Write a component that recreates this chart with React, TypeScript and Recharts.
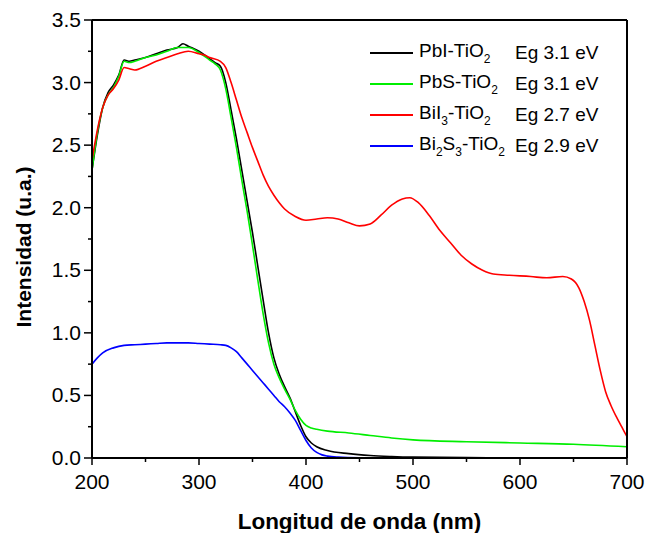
import React from 'react';
import { LineChart, Line, XAxis, YAxis, Legend } from 'recharts';

// PbI-TiO2
const pbiNm = [200, 205, 210, 215, 220, 225, 230, 235, 240, 250, 260, 270, 280, 285, 290, 300, 310, 315, 320, 325, 330, 335, 340, 345, 350, 355, 360, 365, 370, 375, 380, 385, 390, 395, 400, 405, 410, 420, 440, 460, 480, 500, 550, 600, 700];
const pbiVal = [2.3, 2.58, 2.8, 2.92, 2.98, 3.06, 3.18, 3.17, 3.18, 3.2, 3.23, 3.26, 3.28, 3.31, 3.29, 3.25, 3.19, 3.16, 3.13, 3.0, 2.78, 2.55, 2.3, 2.05, 1.8, 1.53, 1.26, 1.0, 0.8, 0.67, 0.57, 0.48, 0.37, 0.26, 0.17, 0.12, 0.09, 0.06, 0.035, 0.02, 0.012, 0.007, 0.003, 0.001, 0];

// PbS-TiO2
const pbsNm = [200, 205, 210, 215, 220, 225, 230, 235, 240, 250, 260, 270, 280, 285, 290, 300, 310, 315, 320, 325, 330, 335, 340, 345, 350, 355, 360, 365, 370, 375, 380, 385, 390, 395, 400, 405, 410, 420, 440, 460, 480, 500, 550, 600, 650, 700];
const pbsVal = [2.3, 2.6, 2.8, 2.9, 2.96, 3.05, 3.17, 3.16, 3.17, 3.2, 3.22, 3.25, 3.28, 3.28, 3.28, 3.24, 3.18, 3.15, 3.1, 2.95, 2.72, 2.48, 2.22, 1.97, 1.7, 1.42, 1.15, 0.92, 0.75, 0.64, 0.55, 0.47, 0.38, 0.31, 0.26, 0.24, 0.23, 0.215, 0.2, 0.18, 0.16, 0.145, 0.13, 0.12, 0.11, 0.09];

// BiI3-TiO2
const biiNm = [200, 205, 210, 215, 220, 225, 230, 235, 240, 250, 260, 270, 280, 290, 300, 305, 310, 320, 325, 330, 335, 340, 345, 350, 355, 360, 365, 370, 375, 380, 390, 400, 410, 420, 430, 440, 450, 460, 470, 480, 490, 497, 505, 515, 525, 535, 545, 555, 565, 575, 590, 610, 625, 640, 648, 655, 660, 665, 670, 675, 680, 685, 690, 695, 700];
const biiVal = [2.38, 2.62, 2.8, 2.9, 2.95, 3.02, 3.12, 3.11, 3.1, 3.13, 3.17, 3.2, 3.23, 3.25, 3.23, 3.22, 3.2, 3.17, 3.12, 3.0, 2.86, 2.72, 2.6, 2.48, 2.37, 2.26, 2.17, 2.1, 2.04, 1.99, 1.93, 1.9, 1.91, 1.92, 1.91, 1.88, 1.855, 1.87, 1.94, 2.02, 2.07, 2.08, 2.04, 1.94, 1.82, 1.72, 1.62, 1.55, 1.5, 1.47, 1.46, 1.45, 1.44, 1.45, 1.43, 1.36, 1.25, 1.1, 0.9, 0.7, 0.53, 0.42, 0.33, 0.25, 0.17];

// Bi2S3-TiO2
const bisNm = [200, 205, 210, 220, 230, 240, 250, 260, 270, 280, 290, 300, 310, 320, 325, 330, 335, 340, 345, 350, 355, 360, 365, 370, 375, 380, 385, 390, 395, 400, 405, 410, 415, 420, 430, 450, 500, 700];
const bisVal = [0.75, 0.8, 0.84, 0.88, 0.9, 0.905, 0.91, 0.915, 0.92, 0.92, 0.92, 0.915, 0.91, 0.905, 0.9, 0.88, 0.85, 0.8, 0.75, 0.7, 0.65, 0.6, 0.55, 0.5, 0.45, 0.41, 0.36, 0.3, 0.22, 0.14, 0.08, 0.045, 0.025, 0.015, 0.007, 0.002, 0, 0];

const xTicks = [200, 250, 300, 350, 400, 450, 500, 550, 600, 650, 700];
const yTicks = [0, 0.25, 0.5, 0.75, 1, 1.25, 1.5, 1.75, 2, 2.25, 2.5, 2.75, 3, 3.25, 3.5];

const FONT = '"Liberation Sans", Arial, sans-serif';

const zip = (xs: number[], ys: number[]) => xs.map((x, i) => ({ nm: x, v: ys[i] }));

const series = [
  { key: 'pbi', data: zip(pbiNm, pbiVal), color: '#000000', eg: 'Eg 3.1 eV' },
  { key: 'pbs', data: zip(pbsNm, pbsVal), color: '#00ee00', eg: 'Eg 3.1 eV' },
  { key: 'bii', data: zip(biiNm, biiVal), color: '#ff0000', eg: 'Eg 2.7 eV' },
  { key: 'bis', data: zip(bisNm, bisVal), color: '#0000ff', eg: 'Eg 2.9 eV' },
];

const sub = (t: string) => <sub style={{ fontSize: 12, verticalAlign: -6 }}>{t}</sub>;

const labels: Record<string, React.ReactNode> = {
  pbi: <>PbI-TiO{sub('2')}</>,
  pbs: <>PbS-TiO{sub('2')}</>,
  bii: <>BiI{sub('3')}-TiO{sub('2')}</>,
  bis: <>Bi{sub('2')}S{sub('3')}-TiO{sub('2')}</>,
};

const BottomTick = (p: any) => {
  const v = p.payload.value;
  const major = v % 100 === 0;
  return (
    <g>
      <line x1={p.x} x2={p.x} y1={p.y} y2={p.y + (major ? 7 : 4)} stroke="#000" strokeWidth={1.5} />
      {major && (
        <text x={p.x} y={p.y + 31} textAnchor="middle" fontSize={21} fontFamily={FONT} fill="#000">{v}</text>
      )}
    </g>
  );
};

const LeftTick = (p: any) => {
  const v = p.payload.value;
  const major = Math.abs(v * 2 - Math.round(v * 2)) < 1e-6;
  return (
    <g>
      <line x1={p.x} x2={p.x - (major ? 8 : 4)} y1={p.y} y2={p.y} stroke="#000" strokeWidth={1.5} />
      {major && (
        <text x={p.x - 11} y={p.y + 7} textAnchor="end" fontSize={21} fontFamily={FONT} fill="#000">{v.toFixed(1)}</text>
      )}
    </g>
  );
};

const TopTick = (p: any) => <line x1={p.x} x2={p.x} y1={p.y} y2={p.y + 3} stroke="#000" strokeWidth={1} />;
const RightTick = (p: any) => <line x1={p.x} x2={p.x - 3} y1={p.y} y2={p.y} stroke="#000" strokeWidth={1} />;

const LegendBox = () => (
  <div style={{ fontFamily: FONT, fontSize: 19, color: '#000' }}>
    {series.map(s => (
      <div key={s.key} style={{ height: 31, display: 'flex', alignItems: 'center' }}>
        <div style={{ width: 43, height: 2, background: s.color, marginRight: 6 }} />
        <div style={{ width: 96, whiteSpace: 'nowrap' }}>{labels[s.key]}</div>
        <div style={{ whiteSpace: 'nowrap' }}>{s.eg}</div>
      </div>
    ))}
  </div>
);

const YTitle = (p: any) => {
  const vb = p.viewBox;
  const cy = vb.y + vb.height / 2 + 8;
  return (
    <text x={31} y={cy} transform={`rotate(-90, 31, ${cy})`} textAnchor="middle" fontSize={21} fontWeight="bold" fontFamily={FONT} fill="#000">
      Intensidad (u.a.)
    </text>
  );
};

export default function App() {
  return (
    <div style={{ position: 'absolute', left: 0, top: 0, background: '#fff' }}>
      <LineChart width={645} height={533} margin={{ top: 19, right: 17, bottom: 74, left: 32 }}>
        <XAxis
          xAxisId="b"
          dataKey="nm"
          type="number"
          domain={[200, 700]}
          ticks={xTicks}
          height={1}
          tickSize={0}
          tickMargin={0}
          tickLine={false}
          tick={BottomTick}
          axisLine={{ stroke: '#000', strokeWidth: 2 }}
          label={{ value: 'Longitud de onda (nm)', position: 'bottom', offset: 54, fontSize: 22.5, fontWeight: 'bold', fontFamily: FONT, fill: '#000' }}
        />
        <XAxis
          xAxisId="t"
          orientation="top"
          dataKey="nm"
          type="number"
          domain={[200, 700]}
          ticks={xTicks}
          height={1}
          tickSize={0}
          tickMargin={0}
          tickLine={false}
          tick={TopTick}
          axisLine={{ stroke: '#000', strokeWidth: 2 }}
        />
        <YAxis
          yAxisId="l"
          type="number"
          domain={[0, 3.5]}
          ticks={yTicks}
          width={60}
          tickSize={0}
          tickMargin={0}
          tickLine={false}
          tick={LeftTick}
          axisLine={{ stroke: '#000', strokeWidth: 2 }}
          label={{ content: YTitle }}
        />
        <YAxis
          yAxisId="r"
          orientation="right"
          type="number"
          domain={[0, 3.5]}
          ticks={yTicks}
          width={1}
          tickSize={0}
          tickMargin={0}
          tickLine={false}
          tick={RightTick}
          axisLine={{ stroke: '#000', strokeWidth: 2 }}
        />
        {series.map(s => (
          <Line
            key={s.key}
            xAxisId="b"
            yAxisId="l"
            data={s.data}
            dataKey="v"
            stroke={s.color}
            strokeWidth={1.6}
            dot={false}
            activeDot={false}
            type="monotone"
            isAnimationActive={false}
          />
        ))}
        <Legend
          layout="vertical"
          align="center"
          verticalAlign="middle"
          content={LegendBox}
          wrapperStyle={{ left: 370, top: 37, width: 270 }}
        />
      </LineChart>
    </div>
  );
}
